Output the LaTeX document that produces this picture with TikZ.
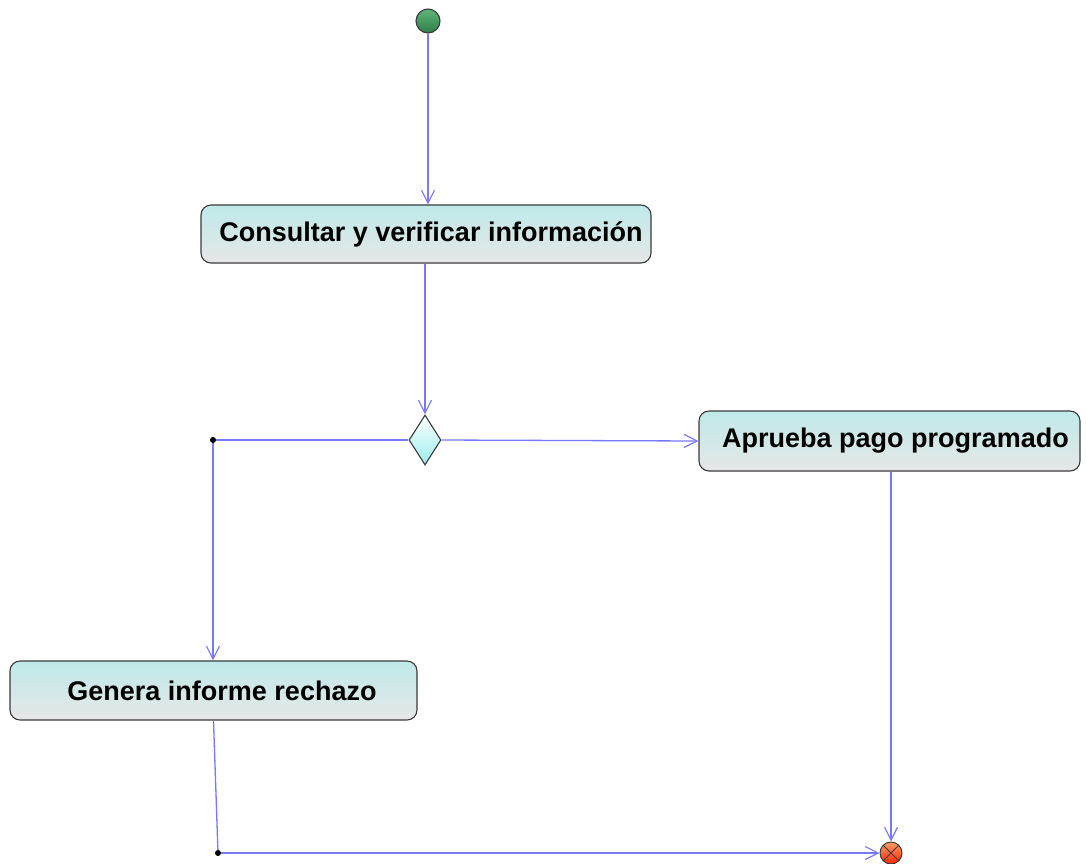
\documentclass[tikz,border=0pt]{standalone}
\usepackage{fontspec}
\setmainfont{Liberation Sans}
\usetikzlibrary{arrows.meta,shapes.geometric}
\definecolor{flowc}{HTML}{7878FF}
\definecolor{boxtop}{HTML}{BFE9E9}
\definecolor{boxbot}{HTML}{E6E7E7}
\definecolor{edgec}{HTML}{3A3A3A}
\definecolor{starttop}{HTML}{5FB77A}
\definecolor{startbot}{HTML}{2E7D45}
\tikzset{
  actbox/.style={draw=edgec, line width=1.1pt, rounded corners=10pt, top color=boxtop, bottom color=boxbot,
    font=\bfseries\fontsize{27}{31}\selectfont, inner sep=0pt, anchor=center},
  flow/.style={draw=flowc, line width=1.3pt},
  flowarr/.style={flow, -{Straight Barb[length=13pt,width=13pt,line width=1.2pt]}},
  dotmark/.style={fill=black},
}
\begin{document}
\begin{tikzpicture}[x=1pt,y=-1pt]
\useasboundingbox (0,0) rectangle (1086,863);
\node[circle, draw=edgec, line width=1.1pt, top color=starttop, bottom color=startbot, minimum size=24pt, inner sep=0pt] (start) at (428,21) {};
\node[actbox, minimum width=450pt, minimum height=58pt] (b1) at (426,234) {\hspace*{10pt}\raisebox{-3pt}{Consultar y verificar información}};
\node[diamond, draw=edgec, line width=1.1pt, top color=white, bottom color=boxtop!80!cyan, minimum width=32pt, minimum height=50pt, inner sep=0pt, aspect=0.64] (dia) at (425,440) {};
\node[actbox, minimum width=381pt, minimum height=60pt] (b2) at (889.5,441) {\hspace*{12pt}\raisebox{-3pt}{Aprueba pago programado}};
\node[actbox, minimum width=407pt, minimum height=59pt] (b3) at (213.5,690.5) {\hspace*{17pt}\raisebox{-3pt}{Genera informe rechazo}};
\node[circle, draw=edgec, line width=1pt, top color=orange!70!red!60!white, bottom color=red!70!orange, minimum size=22pt, inner sep=0pt,
  path picture={\draw[edgec, line width=1pt] (path picture bounding box.north west) -- (path picture bounding box.south east)
    (path picture bounding box.north east) -- (path picture bounding box.south west);}] (end) at (891,853) {};
\coordinate (j1) at (213,440);
\coordinate (j2) at (218,853);
\draw[flowarr] (start.south) -- (start.south |- b1.north);
\draw[flowarr] (b1.south -| dia.north) -- (dia.north);
\draw[flowarr] (dia.east) -- (b2.west);
\draw[flow] (dia.west) -- (j1);
\draw[flowarr] (j1) -- (j1 |- b3.north);
\draw[flow] (b3.south) -- (j2);
\draw[flowarr] (j2) -- (end.west);
\draw[flowarr] (b2.south -| end.north) -- (end.north);
\fill[dotmark] (j1) circle (3pt);
\fill[dotmark] (j2) circle (3pt);
\end{tikzpicture}
\end{document}
